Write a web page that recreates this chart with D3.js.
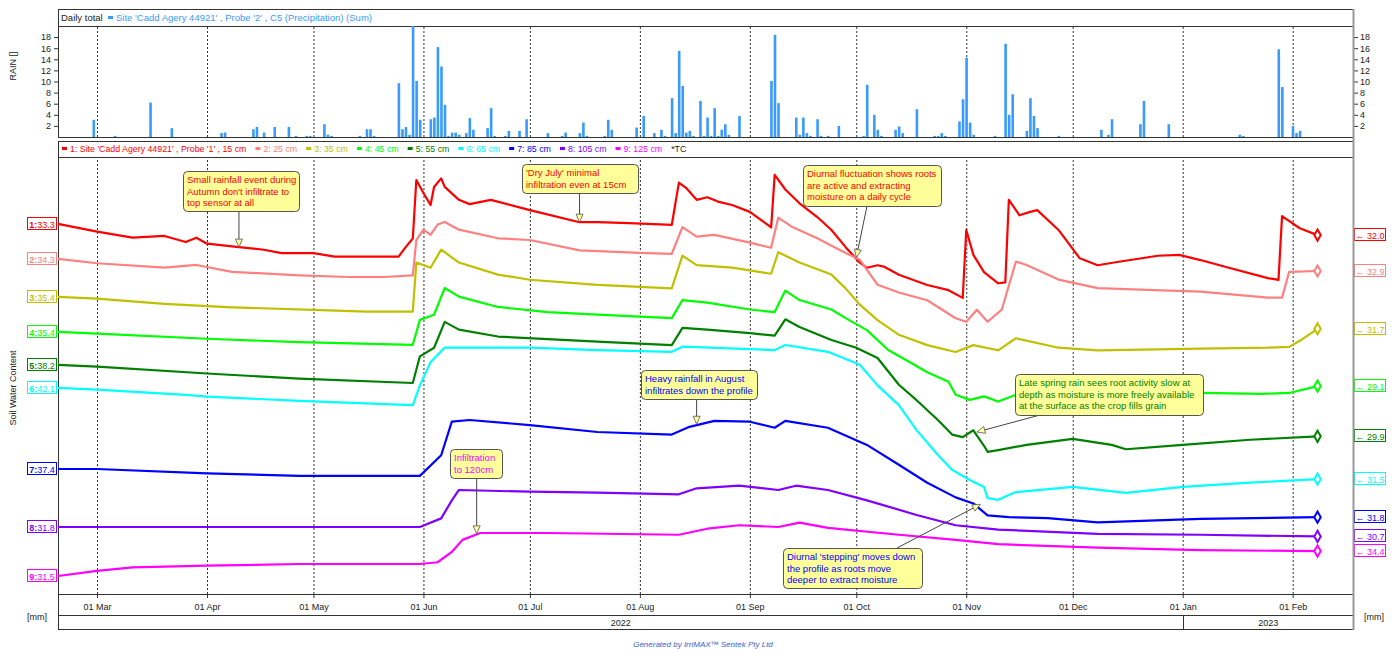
<!DOCTYPE html>
<html>
<head>
<meta charset="utf-8">
<script src="https://cdn.jsdelivr.net/npm/d3@7"></script>
<style>
  body { margin: 0; background: #fff; }
  svg { font-family: "Liberation Sans", Arial, sans-serif; }
  .frame { fill: none; stroke: #333; stroke-width: 1; }
  .grid line { stroke: #333; stroke-dasharray: 2,2; }
  .grid .domain { display: none; }
  .axis .domain { display: none; }
  .axis text { fill: #222; }
  .axis line { stroke: #333; }
</style>
</head>
<body>
<svg id="chart" width="1396" height="650"></svg>
<script>
// sensor depths & colours
const depths = ["15 cm", "25 cm", "35 cm", "45 cm", "55 cm", "65 cm", "85 cm", "105 cm", "125 cm"];
const sensorColors = ["#ff0000", "#ff8080", "#c0c000", "#00ff00", "#008000", "#00ffff", "#0000ff", "#8000ff", "#ff00ff"];
// IrriMAX stacks every sensor on its own band (mm added to each series)
const stackOffsets = [9.72, 4.65, -0.87, -4.93, -11.57, -18.15, -22.87, -24.01, -29.41];

// soil water content per sensor [date, mm]
const sensor15 = [["2022-02-18",33.3],["2022-03-01",32.4],["2022-03-11",31.7],["2022-03-20",31.9],["2022-03-26",31.2],["2022-03-29",31.7],["2022-04-01",31.0],["2022-04-10",30.6],["2022-04-17",30.3],["2022-04-22",29.9],["2022-05-01",29.9],["2022-05-07",29.5],["2022-05-16",29.5],["2022-05-25",29.5],["2022-05-27",30.6],["2022-05-29",31.6],["2022-05-30",38.4],["2022-06-01",36.9],["2022-06-03",35.5],["2022-06-04",37.6],["2022-06-06",38.6],["2022-06-07",37.6],["2022-06-11",36.1],["2022-06-14",35.6],["2022-06-20",36.1],["2022-07-01",34.9],["2022-07-15",33.5],["2022-07-20",33.5],["2022-07-29",33.4],["2022-08-10",33.2],["2022-08-12",38.1],["2022-08-14",37.5],["2022-08-17",36.1],["2022-08-20",36.4],["2022-08-23",35.9],["2022-08-27",35.5],["2022-09-01",34.7],["2022-09-07",32.9],["2022-09-08",39.0],["2022-09-11",37.3],["2022-09-15",35.7],["2022-09-20",34.1],["2022-09-24",32.6],["2022-09-28",30.6],["2022-10-02",28.8],["2022-10-04",28.2],["2022-10-07",28.5],["2022-10-09",28.3],["2022-10-13",27.4],["2022-10-21",26.2],["2022-10-27",25.6],["2022-10-31",24.7],["2022-11-01",32.6],["2022-11-03",29.7],["2022-11-06",27.7],["2022-11-10",26.4],["2022-11-12",26.5],["2022-11-13",36.1],["2022-11-16",34.3],["2022-11-19",34.7],["2022-11-21",34.9],["2022-11-27",32.6],["2022-12-03",29.3],["2022-12-08",28.5],["2022-12-14",28.9],["2022-12-25",29.6],["2022-12-31",29.7],["2023-01-06",29.1],["2023-01-14",28.2],["2023-01-25",27.0],["2023-01-28",26.8],["2023-01-29",34.2],["2023-02-03",32.8],["2023-02-08",32.0]];
const sensor25 = [["2022-02-18",34.3],["2022-03-01",33.8],["2022-03-20",33.3],["2022-03-29",33.6],["2022-04-08",32.8],["2022-04-27",32.4],["2022-05-11",32.2],["2022-05-21",32.2],["2022-05-29",32.4],["2022-05-30",36.5],["2022-06-01",37.7],["2022-06-03",37.1],["2022-06-05",38.3],["2022-06-07",38.6],["2022-06-11",37.7],["2022-06-22",36.7],["2022-07-01",36.5],["2022-07-15",35.3],["2022-08-01",35.0],["2022-08-10",34.9],["2022-08-13",38.0],["2022-08-17",36.9],["2022-08-22",37.1],["2022-09-01",36.2],["2022-09-07",35.6],["2022-09-09",39.1],["2022-09-13",38.0],["2022-09-20",36.7],["2022-09-28",35.0],["2022-10-02",34.2],["2022-10-07",31.3],["2022-10-13",30.4],["2022-10-21",29.5],["2022-10-29",27.4],["2022-11-01",27.0],["2022-11-04",28.4],["2022-11-07",27.0],["2022-11-11",28.4],["2022-11-15",34.0],["2022-11-18",33.6],["2022-11-27",31.9],["2022-12-08",30.9],["2022-12-22",30.7],["2023-01-06",30.5],["2023-01-25",29.8],["2023-01-29",29.8],["2023-01-31",32.8],["2023-02-08",32.9]];
const sensor35 = [["2022-02-18",35.4],["2022-03-01",35.2],["2022-03-20",34.6],["2022-04-08",34.2],["2022-05-01",33.9],["2022-05-16",33.7],["2022-05-29",33.7],["2022-05-30",39.4],["2022-06-03",38.8],["2022-06-06",40.9],["2022-06-11",39.4],["2022-06-22",38.0],["2022-07-01",37.4],["2022-07-20",36.8],["2022-08-10",36.4],["2022-08-13",40.2],["2022-08-17",39.1],["2022-08-27",38.8],["2022-09-07",38.1],["2022-09-09",40.6],["2022-09-15",39.4],["2022-09-24",38.0],["2022-09-28",36.4],["2022-10-02",34.5],["2022-10-07",32.7],["2022-10-13",31.0],["2022-10-21",29.8],["2022-10-29",29.0],["2022-11-03",29.8],["2022-11-10",29.2],["2022-11-15",30.6],["2022-11-27",29.5],["2022-12-08",29.2],["2023-01-06",29.4],["2023-01-25",29.5],["2023-01-31",29.6],["2023-02-03",30.3],["2023-02-08",31.7]];
const sensor45 = [["2022-02-18",35.4],["2022-03-01",35.2],["2022-04-01",34.6],["2022-04-27",34.2],["2022-05-29",33.9],["2022-05-31",36.8],["2022-06-04",37.4],["2022-06-07",40.5],["2022-06-11",39.5],["2022-06-22",38.3],["2022-07-06",37.7],["2022-07-20",37.4],["2022-08-10",37.0],["2022-08-13",39.1],["2022-08-20",38.8],["2022-09-01",38.0],["2022-09-08",37.7],["2022-09-11",40.2],["2022-09-15",39.1],["2022-09-24",38.0],["2022-09-28",37.0],["2022-10-04",35.6],["2022-10-10",33.3],["2022-10-16",31.9],["2022-10-21",30.7],["2022-10-27",29.6],["2022-10-29",28.1],["2022-11-02",27.5],["2022-11-06",27.9],["2022-11-10",27.3],["2022-11-15",28.1],["2022-11-24",28.9],["2022-12-08",28.4],["2023-01-06",28.3],["2023-01-23",28.2],["2023-01-31",28.3],["2023-02-08",29.1]];
const sensor55 = [["2022-02-18",38.2],["2022-03-01",38.0],["2022-04-01",37.2],["2022-04-27",36.6],["2022-05-29",36.1],["2022-05-31",39.2],["2022-06-04",40.2],["2022-06-07",43.2],["2022-06-11",42.3],["2022-06-22",41.5],["2022-07-20",40.9],["2022-08-10",40.5],["2022-08-13",42.5],["2022-08-20",42.3],["2022-09-01",41.9],["2022-09-08",41.6],["2022-09-11",43.5],["2022-09-15",42.6],["2022-09-24",41.1],["2022-10-01",40.2],["2022-10-07",39.0],["2022-10-13",35.9],["2022-10-18",34.1],["2022-10-24",31.8],["2022-10-28",30.1],["2022-10-31",29.8],["2022-11-03",30.6],["2022-11-06",28.8],["2022-11-07",28.1],["2022-11-10",28.3],["2022-11-18",28.9],["2022-12-01",29.6],["2022-12-12",28.9],["2022-12-16",28.4],["2023-01-01",28.9],["2023-01-20",29.5],["2023-02-08",29.9]];
const sensor65 = [["2022-02-18",42.1],["2022-03-01",41.9],["2022-03-26",41.3],["2022-04-01",41.1],["2022-04-27",40.6],["2022-05-29",40.1],["2022-05-31",42.4],["2022-06-03",45.1],["2022-06-07",46.8],["2022-07-01",46.8],["2022-07-20",46.5],["2022-08-10",46.3],["2022-08-13",46.9],["2022-09-08",46.5],["2022-09-11",47.1],["2022-09-23",46.3],["2022-10-02",44.8],["2022-10-07",42.4],["2022-10-13",40.1],["2022-10-18",37.2],["2022-10-24",34.3],["2022-10-28",32.6],["2022-11-02",31.4],["2022-11-06",30.6],["2022-11-07",29.3],["2022-11-10",29.1],["2022-11-15",30.0],["2022-12-01",30.6],["2022-12-16",29.9],["2023-01-01",30.6],["2023-01-20",31.1],["2023-02-08",31.5]];
const sensor85 = [["2022-02-18",37.4],["2022-03-01",37.4],["2022-04-01",36.9],["2022-04-27",36.6],["2022-05-31",36.6],["2022-06-06",39.0],["2022-06-09",42.9],["2022-06-14",43.1],["2022-07-01",42.5],["2022-07-20",41.7],["2022-08-10",41.4],["2022-08-15",42.3],["2022-08-22",43.0],["2022-09-01",42.9],["2022-09-08",42.2],["2022-09-11",43.0],["2022-09-23",42.2],["2022-10-04",40.2],["2022-10-13",37.9],["2022-10-21",35.8],["2022-10-29",34.1],["2022-11-03",33.4],["2022-11-07",32.0],["2022-11-13",31.8],["2022-11-24",31.7],["2022-12-08",31.2],["2023-01-06",31.6],["2023-02-08",31.8]];
const sensor105 = [["2022-02-18",31.8],["2022-04-01",31.8],["2022-05-31",31.8],["2022-06-06",32.8],["2022-06-09",34.9],["2022-06-11",36.1],["2022-07-01",35.9],["2022-07-20",35.8],["2022-08-12",35.6],["2022-08-17",36.3],["2022-08-29",36.6],["2022-09-09",36.1],["2022-09-14",36.6],["2022-09-23",36.1],["2022-10-04",34.9],["2022-10-18",33.2],["2022-10-29",32.0],["2022-11-10",31.5],["2022-12-08",31.0],["2023-01-06",30.9],["2023-02-08",30.7]];
const sensor125 = [["2022-02-18",31.5],["2022-03-01",32.1],["2022-03-11",32.5],["2022-04-01",32.7],["2022-04-27",32.9],["2022-05-31",32.9],["2022-06-05",33.1],["2022-06-09",34.3],["2022-06-12",35.7],["2022-06-17",36.5],["2022-07-06",36.5],["2022-08-12",36.3],["2022-08-20",37.0],["2022-08-29",37.4],["2022-09-09",37.2],["2022-09-15",37.7],["2022-09-23",37.1],["2022-10-13",36.3],["2022-10-29",35.7],["2022-11-10",35.2],["2022-12-08",34.8],["2023-01-06",34.5],["2023-02-08",34.4]];
const sensors = [sensor15, sensor25, sensor35, sensor45, sensor55, sensor65, sensor85, sensor105, sensor125];

// daily rainfall (mm)
const rainDates = ["2022-02-28","2022-03-06","2022-03-16","2022-03-22","2022-04-05","2022-04-06","2022-04-14","2022-04-15","2022-04-17","2022-04-20","2022-04-24","2022-04-26","2022-04-29","2022-04-30","2022-05-04","2022-05-05","2022-05-06","2022-05-14","2022-05-16","2022-05-17","2022-05-18","2022-05-25","2022-05-26","2022-05-27","2022-05-28","2022-05-29","2022-05-30","2022-05-31","2022-06-03","2022-06-04","2022-06-05","2022-06-06","2022-06-07","2022-06-08","2022-06-09","2022-06-10","2022-06-11","2022-06-13","2022-06-14","2022-06-15","2022-06-19","2022-06-20","2022-06-21","2022-06-24","2022-06-25","2022-06-28","2022-06-30","2022-07-06","2022-07-10","2022-07-11","2022-07-15","2022-07-16","2022-07-17","2022-07-22","2022-07-23","2022-07-24","2022-07-31","2022-08-02","2022-08-05","2022-08-07","2022-08-08","2022-08-10","2022-08-11","2022-08-12","2022-08-13","2022-08-14","2022-08-15","2022-08-16","2022-08-18","2022-08-19","2022-08-20","2022-08-21","2022-08-22","2022-08-23","2022-08-24","2022-08-25","2022-08-26","2022-08-29","2022-09-07","2022-09-08","2022-09-09","2022-09-14","2022-09-15","2022-09-16","2022-09-17","2022-09-18","2022-09-20","2022-09-21","2022-09-23","2022-09-26","2022-10-03","2022-10-04","2022-10-06","2022-10-07","2022-10-08","2022-10-12","2022-10-13","2022-10-14","2022-10-18","2022-10-23","2022-10-24","2022-10-25","2022-10-26","2022-10-30","2022-10-31","2022-11-01","2022-11-02","2022-11-03","2022-11-09","2022-11-12","2022-11-13","2022-11-14","2022-11-18","2022-11-19","2022-11-20","2022-11-21","2022-11-27","2022-12-09","2022-12-11","2022-12-12","2022-12-20","2022-12-21","2022-12-28","2023-01-17","2023-01-18","2023-01-28","2023-01-29","2023-02-01","2023-02-02","2023-02-03"];
const rainMm = [3.1,0.2,6.2,1.6,0.7,0.8,1.4,1.8,0.8,1.8,1.8,0.2,0.2,0.2,2.3,0.4,0.2,0.2,1.4,1.4,0.2,9.7,1.4,1.8,0.4,20.0,10.1,3.1,3.2,3.5,16.2,12.7,5.8,0.2,0.8,0.8,0.4,0.7,3.4,1.3,1.6,5.2,0.2,0.2,1.1,1.1,3.2,0.7,0.2,0.8,0.7,2.6,0.2,0.2,3.1,1.3,1.7,3.8,0.7,1.3,0.2,7.0,0.7,15.5,9.2,0.8,1.1,0.2,6.5,0.2,3.5,0.2,5.2,0.2,1.3,2.3,0.4,3.8,10.1,18.4,6.1,3.5,0.4,3.5,0.7,0.2,3.2,0.2,0.2,2.0,0.2,9.4,4.0,1.3,0.2,1.3,1.9,0.7,5.0,0.2,0.2,0.7,0.2,2.8,6.8,14.3,2.6,0.4,0.2,16.8,4.0,7.7,1.1,7.0,3.8,1.6,0.2,1.3,0.4,3.2,2.3,6.5,2.3,0.4,0.2,15.8,9.0,2.0,0.7,1.1];
const rainTicks = [2, 4, 6, 8, 10, 12, 14, 16, 18];

// callout notes: series index, target date/value, box layout
const notes = [
  { lines: ["Small rainfall event during", "Autumn don't infiltrate to", "top sensor at all"], s: 0, date: "2022-04-10", value: 30.6, box: [183, 171, 116, 40] },
  { lines: ["'Dry July' minimal", "infiltration even at 15cm"], s: 0, date: "2022-07-15", value: 33.5, box: [522, 164, 116, 29] },
  { lines: ["Diurnal fluctuation shows roots", "are active and extracting", "moisture on a daily cycle"], s: 0, date: "2022-10-01", value: 29.4, box: [803, 165, 138, 41], from: [867, 206] },
  { lines: ["Heavy rainfall in August", "infiltrates down the profile"], s: 6, date: "2022-08-17", value: 42.6, box: [641, 370, 116, 29] },
  { lines: ["Late spring rain sees root activity slow at", "depth as moisture is more freely available", "at the surface as the crop fills grain"], s: 4, date: "2022-11-04", value: 30.4, box: [1015, 374, 188, 41], from: [1040, 415] },
  { lines: ["Diurnal 'stepping' moves down", "the profile as roots move", "deeper to extract moisture"], s: 6, date: "2022-11-05", value: 33.3, box: [783, 548, 139, 40], from: [897, 548] },
  { lines: ["Infiltration", "to 120cm"], s: 8, date: "2022-06-16", value: 36.4, box: [450, 449, 52, 29] }
];

const parseDate = d3.timeParse("%Y-%m-%d");
const svg = d3.select("#chart");

const left = 58, right = 1353;
const rainTop = 26, rainBottom = 137;
const plotTop = 157, plotBottom = 594;

const x = d3.scaleTime()
  .domain([new Date(2022, 1, 18), new Date(2023, 1, 18)])
  .range([left, right]);
const yRain = d3.scaleLinear().domain([0, 20]).range([rainBottom, rainTop]);
const ySwc = d3.scaleLinear().domain([0, 50.8]).range([plotBottom, plotTop]);

// ---- frames ----
svg.append("rect").attr("class", "frame")
  .attr("x", left + 0.5).attr("y", 9.5).attr("width", right - left).attr("height", rainBottom - 9);
svg.append("line").attr("class", "frame")
  .attr("x1", left).attr("x2", right).attr("y1", rainTop + 0.5).attr("y2", rainTop + 0.5);
svg.append("rect").attr("class", "frame")
  .attr("x", left + 0.5).attr("y", 141.5).attr("width", right - left).attr("height", 488);
[plotTop, plotBottom, 615].forEach(yy => {
  svg.append("line").attr("class", "frame")
    .attr("x1", left).attr("x2", right).attr("y1", yy + 0.5).attr("y2", yy + 0.5);
});
const janX = Math.round(x(new Date(2023, 0, 1))) + 0.5;
svg.append("line").attr("class", "frame")
  .attr("x1", janX).attr("x2", janX).attr("y1", 615).attr("y2", 629);

// ---- gridlines ----
const months = d3.timeMonth.every(1);
svg.append("g").attr("class", "grid")
  .attr("transform", `translate(0,${rainBottom})`)
  .call(d3.axisBottom(x).ticks(months).tickFormat("").tickSize(-(rainBottom - rainTop)));
svg.append("g").attr("class", "grid")
  .attr("transform", `translate(0,${plotBottom})`)
  .call(d3.axisBottom(x).ticks(months).tickFormat("").tickSize(-(plotBottom - plotTop)));

// ---- month axis & years ----
svg.append("g").attr("class", "axis")
  .attr("transform", `translate(0,${plotBottom})`)
  .call(d3.axisBottom(x).ticks(months).tickFormat(d3.timeFormat("%d %b")).tickSize(4).tickPadding(6))
  .selectAll("text").attr("font-size", 9);
svg.append("text").attr("x", (left + janX) / 2).attr("y", 626)
  .attr("text-anchor", "middle").attr("font-size", 9).attr("fill", "#222").text("2022");
svg.append("text").attr("x", (janX + right) / 2).attr("y", 626)
  .attr("text-anchor", "middle").attr("font-size", 9).attr("fill", "#222").text("2023");

// ---- rain panel ----
svg.append("g").attr("class", "axis")
  .attr("transform", `translate(${left},0)`)
  .call(d3.axisLeft(yRain).tickValues(rainTicks).tickSize(4).tickPadding(3))
  .selectAll("text").attr("font-size", 9);
svg.append("g").attr("class", "axis")
  .attr("transform", `translate(${right + 1},0)`)
  .call(d3.axisRight(yRain).tickValues(rainTicks).tickSize(4).tickPadding(2))
  .selectAll("text").attr("font-size", 9);

const rain = rainDates.map((d, i) => ({ date: parseDate(d), mm: rainMm[i] }));
svg.append("g").selectAll("rect").data(rain).join("rect")
  .attr("x", d => x(d.date) - 1)
  .attr("width", 2.6)
  .attr("y", d => yRain(d.mm))
  .attr("height", d => yRain(0) - yRain(d.mm))
  .attr("fill", "#3a9bff");

svg.append("text").attr("x", 61).attr("y", 21).attr("font-size", 9.5).attr("fill", "#222").text("Daily total");
svg.append("rect").attr("x", 108).attr("y", 16).attr("width", 5).attr("height", 3).attr("fill", "#3a9bff");
svg.append("text").attr("x", 116).attr("y", 21).attr("font-size", 9.5).attr("fill", "#3a9bff")
  .text("Site 'Cadd Agery 44921' , Probe '2' , C5 (Precipitation) (Sum)");

// axis titles
svg.append("text").attr("transform", "translate(16,66) rotate(-90)")
  .attr("text-anchor", "middle").attr("font-size", 9).attr("fill", "#222").text("RAIN []");
svg.append("text").attr("transform", "translate(16,388) rotate(-90)")
  .attr("text-anchor", "middle").attr("font-size", 9).attr("fill", "#222").text("Soil Water Content");
svg.append("text").attr("x", 27).attr("y", 620).attr("font-size", 9).attr("fill", "#222").text("[mm]");
svg.append("text").attr("x", 1364).attr("y", 620).attr("font-size", 9).attr("fill", "#222").text("[mm]");

// ---- legend ----
let lx = 62;
depths.forEach((dep, i) => {
  const label = i === 0 ? `1: Site 'Cadd Agery 44921' , Probe '1' , ${dep}` : `${i + 1}: ${dep}`;
  svg.append("rect").attr("x", lx).attr("y", 147).attr("width", 5).attr("height", 3).attr("fill", sensorColors[i]);
  const t = svg.append("text").attr("x", lx + 8).attr("y", 152).attr("font-size", 8.8)
    .attr("fill", sensorColors[i]).text(label);
  lx += 8 + t.node().getComputedTextLength() + 9;
});
svg.append("text").attr("x", lx).attr("y", 152).attr("font-size", 8.8).attr("fill", "#222").text("*TC");

// ---- soil water lines ----
const series = sensors.map(arr => arr.map(([d, v]) => ({ date: parseDate(d), v })));
series.forEach((data, i) => {
  const line = d3.line().x(d => x(d.date)).y(d => ySwc(d.v + stackOffsets[i]));
  svg.append("path").datum(data)
    .attr("fill", "none").attr("stroke", sensorColors[i])
    .attr("stroke-width", 2.2).attr("stroke-linejoin", "round")
    .attr("d", line);
});

// start / end labels
series.forEach((data, i) => {
  const first = data[0], last = data[data.length - 1];
  const y0 = ySwc(first.v + stackOffsets[i]);
  const y1 = ySwc(last.v + stackOffsets[i]);
  svg.append("rect").attr("x", 27.5).attr("y", Math.round(y0) - 6.5).attr("width", 29).attr("height", 12)
    .attr("fill", "#fff").attr("stroke", sensorColors[i]);
  const tl = svg.append("text").attr("x", 42).attr("y", Math.round(y0) + 3.5)
    .attr("text-anchor", "middle").attr("font-size", 9).attr("fill", sensorColors[i]);
  tl.append("tspan").attr("font-weight", "bold").text(`${i + 1}:`);
  tl.append("tspan").text(d3.format(".1f")(first.v));

  svg.append("rect").attr("x", 1354.5).attr("y", Math.round(y1) - 6.5).attr("width", 31).attr("height", 12)
    .attr("fill", "#fff").attr("stroke", sensorColors[i]);
  const tr = svg.append("text").attr("x", 1370).attr("y", Math.round(y1) + 3.5)
    .attr("text-anchor", "middle").attr("font-size", 9).attr("fill", sensorColors[i]);
  tr.append("tspan").attr("font-weight", "bold").text("\u2190 ");
  tr.append("tspan").text(d3.format(".1f")(last.v));

  svg.append("path")
    .attr("transform", `translate(${x(last.date)},${y1})`)
    .attr("d", d3.symbol(d3.symbolDiamond, 36)())
    .attr("fill", "#fff").attr("stroke", sensorColors[i]).attr("stroke-width", 2);
});

// right border
svg.append("line").attr("x1", right + 0.5).attr("x2", right + 0.5).attr("y1", 9).attr("y2", 630)
  .attr("stroke", "#999").attr("stroke-width", 2);

// ---- callouts ----
notes.forEach(n => {
  const tx = x(parseDate(n.date));
  const ty = ySwc(n.value + stackOffsets[n.s]);
  const [bx, by, bw, bh] = n.box;
  const from = n.from || [tx, by + bh];
  const ang = Math.atan2(ty - from[1], tx - from[0]);
  const baseX = tx - 8 * Math.cos(ang), baseY = ty - 8 * Math.sin(ang);
  svg.append("line").attr("x1", from[0]).attr("y1", from[1]).attr("x2", baseX).attr("y2", baseY)
    .attr("stroke", "#444").attr("stroke-width", 1);
  const px = -Math.sin(ang) * 3.5, py = Math.cos(ang) * 3.5;
  svg.append("path")
    .attr("d", `M${tx},${ty}L${baseX + px},${baseY + py}L${baseX - px},${baseY - py}Z`)
    .attr("fill", "#ffff99").attr("stroke", "#555").attr("stroke-width", 0.8);
  svg.append("rect").attr("x", bx + 0.5).attr("y", by + 0.5).attr("width", bw).attr("height", bh)
    .attr("rx", 4).attr("fill", "#ffff99").attr("stroke", "#555");
  const t = svg.append("text").attr("font-size", 9.5).attr("fill", sensorColors[n.s]);
  n.lines.forEach((ln, k) => {
    t.append("tspan").attr("x", bx + 4).attr("y", by + 12 + k * 11.7).text(ln);
  });
});

// footer
svg.append("text").attr("x", 703).attr("y", 647).attr("text-anchor", "middle")
  .attr("font-size", 8).attr("font-style", "italic").attr("fill", "#3366cc")
  .text("Generated by IrriMAX\u2122 Sentek Pty Ltd");
</script>
</body>
</html>
